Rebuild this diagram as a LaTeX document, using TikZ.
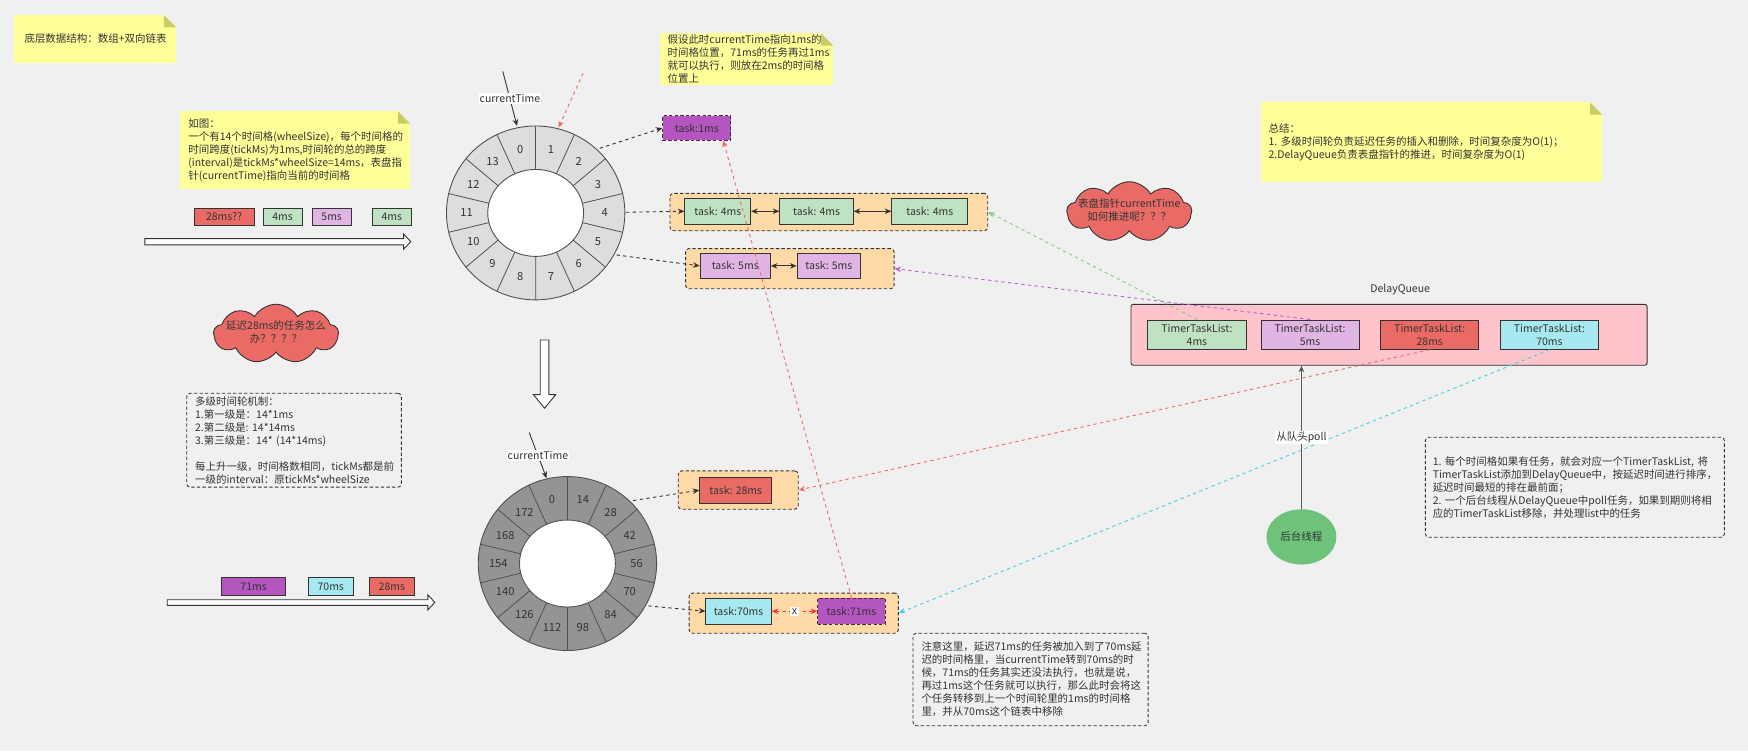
\documentclass[tikz,border=0pt]{standalone}
\usepackage{fontspec}
\setmainfont{Noto Sans CJK SC}
\usetikzlibrary{shapes.symbols,shapes.geometric,arrows.meta}
\definecolor{pagebg}{HTML}{F0F0F0}
\definecolor{noteY}{HTML}{FFFF9A}
\definecolor{foldC}{HTML}{CCCC66}
\definecolor{textc}{HTML}{333333}
\definecolor{linec}{HTML}{333333}
\definecolor{redC}{HTML}{EA6B66}
\definecolor{greenC}{HTML}{BFE3C2}
\definecolor{lilacC}{HTML}{E1B5E3}
\definecolor{purpleC}{HTML}{B455C0}
\definecolor{cyanC}{HTML}{A6E9F0}
\definecolor{orangeC}{HTML}{FFD9A6}
\definecolor{pinkC}{HTML}{FFC4CB}
\definecolor{threadC}{HTML}{6FC27A}
\definecolor{wheelA}{HTML}{DDDDDD}
\definecolor{wheelB}{HTML}{949494}
\definecolor{ringC}{HTML}{505050}
\definecolor{lineG}{HTML}{82CC84}
\definecolor{lineP}{HTML}{C05CD8}
\definecolor{lineC}{HTML}{40D0E2}
\definecolor{lineR}{HTML}{EA6B66}
\definecolor{lineRB}{HTML}{FF3333}
\definecolor{pollC}{HTML}{5A5A5A}
\begin{document}
\begin{tikzpicture}[x=1pt,y=-1pt,
  every node/.style={text=textc},
  tnine/.style={font=\fontsize{9.4}{11.7}\selectfont},
  tten/.style={font=\fontsize{10}{12}\selectfont},
  box/.style={tnine, draw=linec, line width=0.8pt, inner sep=0pt, align=center},
  dbox/.style={box, dash pattern=on 3pt off 2pt},
  cont/.style={draw=linec, line width=0.8pt, dash pattern=on 3pt off 2pt, fill=orangeC, rounded corners=3pt, inner sep=0pt},
  ynote/.style={tnine, fill=noteY, inner ysep=0pt, align=left,
    path picture={
      \fill[pagebg] (path picture bounding box.north east) ++(-11pt,0pt) -- ++(11pt,0pt) -- ++(0pt,-11pt) -- cycle;
      \fill[foldC] (path picture bounding box.north east) ++(-11pt,0pt) -- ++(0pt,-11pt) -- ++(11pt,0pt) -- cycle;}},
  dnote/.style={tnine, draw=linec, line width=0.8pt, dash pattern=on 3pt off 2pt, rounded corners=3pt, inner ysep=0pt, align=left},
  tip/.style={-{Stealth[length=6pt,width=5pt]}},
  conn/.style={draw=linec, line width=0.8pt, dash pattern=on 3pt off 3pt, tip},
  connR/.style={conn, draw=lineR},
  connG/.style={conn, draw=lineG},
  connP/.style={conn, draw=lineP},
  connC/.style={conn, draw=lineC},
  dbl/.style={draw=linec, line width=0.8pt, {Stealth[length=6pt,width=5pt]}-{Stealth[length=6pt,width=5pt]}},
  hollow/.style={draw=linec, line width=0.8pt, fill=white},
  lbl/.style={tnine, fill=white, inner sep=1pt},
  cloudy/.style={cloud, cloud puffs=9, cloud puff arc=120, aspect=2, draw=linec, line width=0.8pt, fill=redC, inner sep=0pt, tnine, text height=0pt, text depth=0pt}
]
% page
\fill[pagebg] (0,0) rectangle (1568,673.7);
\useasboundingbox (0,0) rectangle (1568,673.7);

% notes
\node[ynote, text width=126.6pt, inner xsep=9.4pt, minimum height=43pt] (n1) at (85.3,35) {底层数据结构：数组+双向链表};
\node[ynote, text width=191.4pt, inner xsep=7.6pt, minimum height=69.5pt] (n2) at (264.7,134.75) {如图：\\一个有14个时间格(wheelSize)，每个时间格的\\时间跨度(tickMs)为1ms,时间轮的总的跨度\\(interval)是tickMs*wheelSize=14ms，表盘指\\针(currentTime)指向当前的时间格};
\node[ynote, text width=141.8pt, inner xsep=6.8pt, minimum height=46.2pt] (n3) at (669.7,53.1) {假设此时currentTime指向1ms的\\时间格位置，71ms的任务再过1ms\\就可以执行，则放在2ms的时间格\\位置上};
\node[ynote, text width=292.3pt, inner xsep=7pt, minimum height=71.2pt] (nsum) at (1284.15,127.4) {总结：\\1.~多级时间轮负责延迟任务的插入和删除，时间复杂度为O(1)；\\2.DelayQueue负责表盘指针的推进，时间复杂度为O(1)};
\node[dnote, text width=177.5pt, inner xsep=7.5pt, minimum height=84.2pt] (nmulti) at (263.75,394.9) {多级时间轮机制：\\1.第一级是：14*1ms\\2.第二级是:~14*14ms\\3.第三级是：14*~(14*14ms)\\[11.7pt]每上升一级，时间格数相同，tickMs都是前\\一级的interval：原tickMs*wheelSize};
\node[dnote, text width=255pt, inner xsep=6.6pt, minimum height=89.7pt] (nright) at (1412.7,437.05) {1.~每个时间格如果有任务，就会对应一个TimerTaskList,~将\\TimerTaskList添加到DelayQueue中，按延迟时间进行排序，\\延迟时间最短的排在最前面；\\2.~一个后台线程从DelayQueue中poll任务，如果到期则将相\\应的TimerTaskList移除，并处理list中的任务};
\node[dnote, text width=195.7pt, inner xsep=7.6pt, minimum height=83pt] (nbottom) at (924.45,609.5) {注意这里，延迟71ms的任务被加入到了70ms延\\迟的时间格里，当currentTime转到70ms的时\\候，71ms的任务其实还没法执行，也就是说，\\再过1ms这个任务就可以执行，那么此时会将这\\个任务转移到上一个时间轮里的1ms的时间格\\里，并从70ms这个链表中移除};

% clouds
\node[cloudy, minimum width=112pt, minimum height=54pt] (cl1) at (1013,190) {\raisebox{-2.3pt}{\makebox[0pt]{\begin{tabular}{@{}c@{}}表盘指针currentTime\\如何推进呢？？？\end{tabular}}}};
\node[cloudy, minimum width=112pt, minimum height=53pt] (cl2) at (247.6,299.4) {\raisebox{-2.3pt}{\makebox[0pt]{\begin{tabular}{@{}c@{}}延迟28ms的任务怎么\\办？？？？\end{tabular}}}};

% incoming task rows
\node[box, fill=redC, minimum width=54pt, minimum height=15pt] (r1a) at (201,194.5) {28ms??};
\node[box, fill=greenC, minimum width=35pt, minimum height=15pt] (r1b) at (253.5,194.5) {4ms};
\node[box, fill=lilacC, minimum width=35pt, minimum height=15pt] (r1c) at (297.5,194.5) {5ms};
\node[box, fill=greenC, minimum width=35pt, minimum height=15pt] (r1d) at (351.5,194.5) {4ms};
\draw[hollow] (130,214) -- (362,214) -- (362,210) -- (368.5,216.8) -- (362,223.6) -- (362,219.6) -- (130,219.6) -- cycle;

\node[box, fill=purpleC, minimum width=57pt, minimum height=16pt] (r2a) at (227.5,526) {71ms};
\node[box, fill=cyanC, minimum width=40.6pt, minimum height=16pt] (r2b) at (296.7,526) {70ms};
\node[box, fill=redC, minimum width=41pt, minimum height=16pt] (r2c) at (351.5,526) {28ms};
\draw[hollow] (150,538) -- (383.8,538) -- (383.8,533.6) -- (390,540.35) -- (383.8,547.1) -- (383.8,543) -- (150,543) -- cycle;

% down arrow between wheels
\draw[hollow] (484.6,305) -- (492.4,305) -- (492.4,354) -- (498.5,354) -- (488.5,366.2) -- (478.5,354) -- (484.6,354) -- cycle;

% wheel 1
\begin{scope}[shift={(480.5,191)}]
  \fill[wheelA] (0,0) ellipse [x radius=80pt, y radius=78pt];
  \foreach \k in {0,...,13}
    \draw[ringC, line width=0.7pt] ({43*cos(90-\k*25.714)},{-39*sin(90-\k*25.714)}) -- ({80*cos(90-\k*25.714)},{-78*sin(90-\k*25.714)});
  \draw[ringC, line width=0.8pt] (0,0) ellipse [x radius=80pt, y radius=78pt];
  \filldraw[fill=white, draw=ringC, line width=0.8pt] (0,0) ellipse [x radius=43pt, y radius=39pt];
  \foreach \lab [count=\i from 0] in {0,1,2,3,4,5,6,7,8,9,10,11,12,13}
    \node[tten] (wa\i) at ({62*cos(90-(\i-0.5)*25.714)},{-58.5*sin(90-(\i-0.5)*25.714)}) {\lab};
\end{scope}

% wheel 2
\begin{scope}[shift={(509,505.5)}]
  \fill[wheelB] (0,0) ellipse [x radius=80pt, y radius=78pt];
  \foreach \k in {0,...,13}
    \draw[ringC, line width=0.7pt] ({43*cos(90-\k*25.714)},{-39*sin(90-\k*25.714)}) -- ({80*cos(90-\k*25.714)},{-78*sin(90-\k*25.714)});
  \draw[ringC, line width=0.8pt] (0,0) ellipse [x radius=80pt, y radius=78pt];
  \filldraw[fill=white, draw=ringC, line width=0.8pt] (0,0) ellipse [x radius=43pt, y radius=39pt];
  \foreach \lab [count=\i from 0] in {0,14,28,42,56,70,84,98,112,126,140,154,168,172}
    \node[tten] (wb\i) at ({62*cos(90-(\i-0.5)*25.714)},{-58.5*sin(90-(\i-0.5)*25.714)}) {\lab};
\end{scope}

% anchor points on the wheels
\coordinate (ct1s) at (451,64);
\coordinate (ct1e) at (463.8,113);
\coordinate (ct2s) at (474.7,388);
\coordinate (ct2e) at (490.3,429);
\coordinate (rfs) at (523,65.7);
\coordinate (rfe) at (501,114.5);
\coordinate (w1a) at (538,133);
\coordinate (w1b) at (561.5,190.4);
\coordinate (w1c) at (553,228.7);
\coordinate (w2a) at (568,449);
\coordinate (w2b) at (581.6,543.5);

% task lists
\node[dbox, fill=purpleC, minimum width=61pt, minimum height=21.6pt] (task1) at (625.1,114.8) {task:1ms};

\node[cont, minimum width=285pt, minimum height=33.6pt] (c4) at (743.5,190.2) {};
\node[box, fill=greenC, minimum width=58.9pt, minimum height=23pt] (t4a) at (643.85,189.5) {task: 4ms};
\node[box, fill=greenC, minimum width=65.7pt, minimum height=23pt] (t4b) at (732.45,189.5) {task: 4ms};
\node[box, fill=greenC, minimum width=68pt, minimum height=23pt] (t4c) at (834,189.5) {task: 4ms};

\node[cont, minimum width=187pt, minimum height=36pt] (c5) at (708.5,241) {};
\node[box, fill=lilacC, minimum width=63pt, minimum height=23pt] (t5a) at (659.5,238.5) {task: 5ms};
\node[box, fill=lilacC, minimum width=57pt, minimum height=23pt] (t5b) at (743.5,238.5) {task: 5ms};

\node[cont, minimum width=107.6pt, minimum height=34.4pt] (c28) at (662.2,439.6) {};
\node[box, fill=redC, minimum width=64.2pt, minimum height=23.4pt] (t28) at (659.9,439.7) {task: 28ms};

\node[cont, minimum width=187.6pt, minimum height=36pt] (c70) at (712,550) {};
\node[box, fill=cyanC, minimum width=58.6pt, minimum height=23.4pt] (t70) at (662.5,548.3) {task:70ms};
\node[dbox, fill=purpleC, minimum width=60.4pt, minimum height=23.4pt] (t71) at (763.8,548.3) {task:71ms};

% delay queue
\node[tnine] (dql) at (1256,259.5) {DelayQueue};
\node[draw=linec, line width=0.8pt, fill=pinkC, rounded corners=2pt, minimum width=463pt, minimum height=54.6pt, inner sep=0pt] (dq) at (1246,300.3) {};
\node[box, fill=greenC, minimum width=88pt, minimum height=26.3pt] (ttl4) at (1073.65,300.15) {TimerTaskList:\\4ms};
\node[box, fill=lilacC, minimum width=88pt, minimum height=26.3pt] (ttl5) at (1175.1,300.15) {TimerTaskList:\\5ms};
\node[box, fill=redC, minimum width=88pt, minimum height=26.3pt] (ttl28) at (1282.5,300.15) {TimerTaskList:\\28ms};
\node[box, fill=cyanC, minimum width=88pt, minimum height=26.3pt] (ttl70) at (1389.9,300.15) {TimerTaskList:\\70ms};

\node[ellipse, fill=threadC, minimum width=62.8pt, minimum height=49.6pt, inner sep=0pt, tnine] (thread) at (1167.4,481.6) {后台线程};

% connectors
\draw[draw=linec, line width=0.8pt, tip] (ct1s) -- node[lbl] {currentTime} (ct1e);
\draw[draw=linec, line width=0.8pt, tip] (ct2s) -- node[lbl] {currentTime} (ct2e);
\draw[connR] (rfs) -- (rfe);
\draw[conn] (w1a) -- (task1.west);
\draw[conn] (w1b) -- (t4a.west);
\draw[conn] (w1c) -- (t5a.west);
\draw[conn] (w2a) -- (t28.west);
\draw[conn] (w2b) -- (t70.west);
\draw[dbl] (t4a) -- (t4b);
\draw[dbl] (t4b) -- (t4c);
\draw[dbl] (t5a) -- (t5b);
\draw[draw=lineRB, line width=0.8pt, dash pattern=on 3pt off 3pt, {Stealth[length=6pt,width=5pt]}-{Stealth[length=6pt,width=5pt]}] (t70) -- node[lbl, inner sep=1.5pt] {x} (t71);
\draw[connR] (t71.north) -- ([xshift=23.6pt]task1.south);
\draw[connG] (ttl4.north) -- (c4.east);
\draw[connP] (ttl5.north) -- (c5.east);
\draw[connR] (ttl28.south) -- (c28.east);
\draw[connC] (ttl70.south) -- (c70.east);
\draw[draw=pollC, line width=1pt, tip] (thread.north) -- node[lbl] {从队头poll} (thread.north |- dq.south);
\end{tikzpicture}
\end{document}
